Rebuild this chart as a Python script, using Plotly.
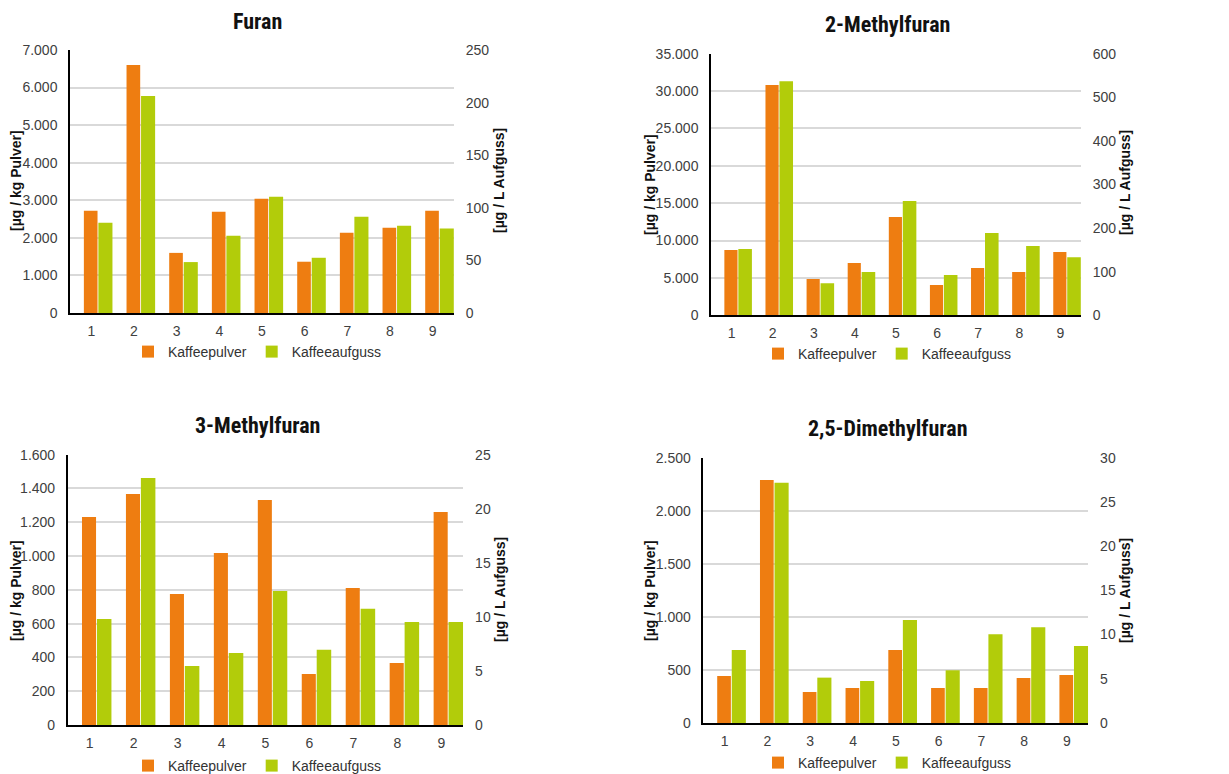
import plotly.graph_objects as go

# page body has an 8px default margin, so the figure is drawn 8px in from the top-left
OFF = 8
W, H = 1229 - OFF, 774 - OFF

categories = [1, 2, 3, 4, 5, 6, 7, 8, 9]
series_names = ["Kaffeepulver", "Kaffeeaufguss"]
titles = ["Furan", "2-Methylfuran", "3-Methylfuran", "2,5-Dimethylfuran"]
left_title = "[µg / kg Pulver]"
right_title = "[µg / L Aufguss]"

# Values
furan_pulver = [2720, 6600, 1600, 2695, 3040, 1365, 2135, 2270, 2720]
furan_aufguss = [85.8, 206.3, 48.4, 73.4, 110.4, 52.5, 91.5, 82.9, 80.4]
methyl2_pulver = [8740, 30800, 4860, 7000, 13150, 4060, 6330, 5800, 8470]
methyl2_aufguss = [152, 537, 73.4, 99.4, 262, 92.5, 188.8, 159, 133]
methyl3_pulver = [1231, 1367, 775, 1018, 1332, 302, 811, 367, 1261]
methyl3_aufguss = [9.80, 22.84, 5.46, 6.66, 12.39, 6.97, 10.76, 9.53, 9.53]
dimethyl_pulver = [443, 2290, 292, 330, 688, 330, 330, 424, 452]
dimethyl_aufguss = [8.25, 27.17, 5.13, 4.75, 11.65, 5.96, 10.03, 10.82, 8.71]

left_ranges = [(0, 7000, 1000), (0, 35000, 5000), (0, 1600, 200), (0, 2500, 500)]
right_ranges = [(0, 250, 50), (0, 600, 100), (0, 25, 5), (0, 30, 5)]

data = [
    (furan_pulver, furan_aufguss),
    (methyl2_pulver, methyl2_aufguss),
    (methyl3_pulver, methyl3_aufguss),
    (dimethyl_pulver, dimethyl_aufguss),
]

ORANGE = "#EE7D11"
GREEN = "#B2CC0A"
GRID = "#D9D9D9"
TICK = "#404040"
HFONT = "Roboto Condensed, Liberation Sans Narrow, Roboto, sans-serif"
FONT = "Liberation Sans, Arial, sans-serif"

# layout geometry in window pixels: (x0, x1, ytop, ybottom)
boxes = [
    (70, 454, 50, 313),
    (711, 1081, 53.7, 315.3),
    (67.7, 463.3, 454.7, 725),
    (703.3, 1088.3, 457.7, 723),
]
title_pos = [(257, 21), (887, 25), (257, 426), (887, 428)]
ltitle_pos = [(16, 181), (650, 185), (16, 591), (650, 591)]
rtitle_pos = [(499, 181), (1125, 183), (500, 590), (1125, 591)]
legend_pos = [(257, 352), (887, 354), (257, 766), (887, 763)]


def px(x):
    return (x - OFF) / W


def py(y):
    return 1 - (y - OFF) / H


fig = go.Figure()
layout = dict(
    width=W, height=H,
    margin=dict(l=0, r=0, t=0, b=0, autoexpand=False),
    paper_bgcolor="white", plot_bgcolor="white",
    separators=",.",
    barmode="overlay",
    annotations=[],
)

for i in range(4):
    xa = "xaxis" if i == 0 else f"xaxis{i+1}"
    ya_l = f"yaxis{2*i+1}" if i > 0 else "yaxis"
    ya_r = f"yaxis{2*i+2}"
    xref = "x" if i == 0 else f"x{i+1}"
    yl = "y" if i == 0 else f"y{2*i+1}"
    yr = f"y{2*i+2}"
    leg = "legend" if i == 0 else f"legend{i+1}"
    x0, x1, yt, yb = boxes[i]
    pulver, aufguss = data[i]

    fig.add_trace(go.Bar(
        x=categories, y=pulver, name=series_names[0],
        xaxis=xref, yaxis=yl, legend=leg,
        marker=dict(color=ORANGE, line=dict(width=0)),
        offset=-0.175, width=0.32,
    ))
    fig.add_trace(go.Bar(
        x=categories, y=aufguss, name=series_names[1],
        xaxis=xref, yaxis=yr, legend=leg,
        marker=dict(color=GREEN, line=dict(width=0)),
        offset=0.165, width=0.33,
    ))

    layout[xa] = dict(
        domain=[px(x0), px(x1)], anchor=yl,
        range=[0.5, 9.5], tickmode="array", tickvals=categories,
        ticktext=[str(c) for c in categories],
        showgrid=False, zeroline=False,
        showline=True, linecolor="#000000", linewidth=2,
        ticks="outside", ticklen=4, tickcolor="rgba(0,0,0,0)",
        tickfont=dict(family=FONT, size=14, color=TICK),
        fixedrange=True,
    )
    lo, hi, dt = left_ranges[i]
    layout[ya_l] = dict(
        domain=[py(yb), py(yt)], anchor=xref,
        range=[lo, hi], tick0=0, dtick=dt, tickformat=",",
        showgrid=True, gridcolor=GRID, gridwidth=2,
        zeroline=False,
        showline=True, linecolor="#000000", linewidth=1.5,
        ticks="outside", ticklen=8, tickcolor="rgba(0,0,0,0)",
        tickfont=dict(family=FONT, size=14, color=TICK),
        fixedrange=True,
    )
    lo, hi, dt = right_ranges[i]
    layout[ya_r] = dict(
        overlaying=yl, side="right", anchor=xref,
        range=[lo, hi], tick0=0, dtick=dt, tickformat=",",
        showgrid=False, zeroline=False, showline=False,
        ticks="outside", ticklen=8, tickcolor="rgba(0,0,0,0)",
        tickfont=dict(family=FONT, size=14, color=TICK),
        fixedrange=True,
    )
    lx, ly = legend_pos[i]
    layout[leg] = dict(
        x=px(lx), y=py(ly), xanchor="center", yanchor="middle",
        orientation="h", xref="paper", yref="paper",
        font=dict(family=FONT, size=14, color="#333333"),
        itemwidth=30, bgcolor="rgba(0,0,0,0)",
        tracegroupgap=0, itemsizing="constant",
        traceorder="normal", itemclick=False, itemdoubleclick=False,
    )
    tx, ty = title_pos[i]
    layout["annotations"].append(dict(
        x=px(tx), y=py(ty), xref="paper", yref="paper",
        text=f"<b>{titles[i]}</b>", showarrow=False,
        xanchor="center", yanchor="middle",
        font=dict(family=HFONT, size=22, color="#111111"),
    ))
    ax_, ay_ = ltitle_pos[i]
    layout["annotations"].append(dict(
        x=px(ax_), y=py(ay_), xref="paper", yref="paper",
        text=f"<b>{left_title}</b>", showarrow=False, textangle=-90,
        xanchor="center", yanchor="middle",
        font=dict(family=FONT, size=14, color="#111111"),
    ))
    ax_, ay_ = rtitle_pos[i]
    layout["annotations"].append(dict(
        x=px(ax_), y=py(ay_), xref="paper", yref="paper",
        text=f"<b>{right_title}</b>", showarrow=False, textangle=-90,
        xanchor="center", yanchor="middle",
        font=dict(family=FONT, size=14, color="#111111"),
    ))

fig.update_layout(**layout)
fig.write_html("out.html")
